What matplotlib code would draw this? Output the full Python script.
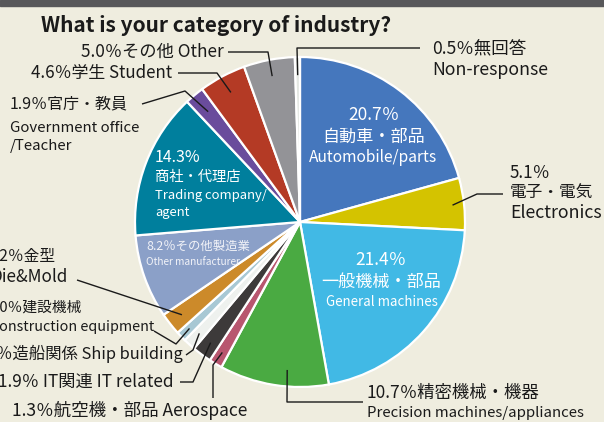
import numpy as np
import matplotlib.pyplot as plt
from matplotlib.patches import Rectangle

# survey shares, clockwise from the top
values = [20.7, 5.1, 21.4, 10.7, 1.3, 1.9, 1.2, 1.0, 2.2, 8.2, 14.3, 1.9, 4.6, 5.0, 0.5]
names_jp = ['自動車・部品', '電子・電気', '一般機械・部品', '精密機械・機器', '航空機・部品',
            'IT関連', '造船関係', '建設機械', '金型', 'その他製造業', '商社・代理店',
            '官庁・教員', '学生', 'その他', '無回答']
names_en = ['Automobile/parts', 'Electronics', 'General machines',
            'Precision machines/appliances', 'Aerospace', 'IT related', 'Ship building',
            'Construction equipment', 'Die&Mold', 'Other manufacturer',
            'Trading company/\nagent', 'Government office\n/Teacher', 'Student', 'Other',
            'Non-response']
colors = ['#4577bd', '#d4c300', '#41b9e5', '#4aaa42', '#b8566f', '#3d3a3a', '#eef1ee',
          '#a8c8d4', '#cc8a2a', '#8ba0c8', '#007f9d', '#6a4c9c', '#b43a25', '#939397',
          '#e4e7e2']

plt.rcParams['font.family'] = ['Noto Sans CJK JP', 'DejaVu Sans']

CX, CY, R = 300, 222, 165
BG = '#efeddf'
INK = '#1a1a1a'

fig = plt.figure(figsize=(6.04, 4.22), dpi=100, facecolor=BG)
ax = fig.add_axes([0, 0, 1, 1])
wedges, _ = ax.pie(values, colors=colors, startangle=-90, counterclock=True,
                   center=(CX, CY), radius=R,
                   wedgeprops=dict(edgecolor='white', linewidth=1.6))
ax.set_xlim(0, 604)
ax.set_ylim(422, 0)
ax.set_aspect('equal')
ax.axis('off')

# dark strip along the top
ax.add_patch(Rectangle((0, 0), 604, 6, color='#58585a', clip_on=False))

ax.text(41, 25, 'What is your category of industry?', fontsize=15,
        fontweight='bold', color=INK, va='center', ha='left')


def anchor(i, f=0.5, rf=0.9):
    w = wedges[i]
    t = np.radians(w.theta1 + f * (w.theta2 - w.theta1))
    return CX + rf * R * np.cos(t), CY + rf * R * np.sin(t)


def pct(i):
    return f'{values[i]}％'


def lab(x, y, s, size, ha='left', color=INK, **kw):
    ax.text(x, y, s, fontsize=size, ha=ha, va='center', color=color, **kw)


# outside labels
lab(224, 52, f'{pct(13)}{names_jp[13]} {names_en[13]}', 12.4, ha='right')
lab(172, 73, f'{pct(12)}{names_jp[12]} {names_en[12]}', 12.2, ha='right')
lab(10, 104, f'{pct(11)}{names_jp[11]}', 11.5)
lab(10, 137, names_en[11], 10.8, linespacing=1.3)
lab(432, 48, f'{pct(14)}{names_jp[14]}', 12.6)
lab(432, 70, names_en[14], 12.8)
lab(510, 173, pct(1), 12.3)
lab(510, 193, names_jp[1], 12.0)
lab(510, 213, names_en[1], 12.8)
lab(367, 393, f'{pct(3)}{names_jp[3]}', 12.5)
lab(367, 413, names_en[3], 10.8)
lab(12, 410, f'{pct(4)}{names_jp[4]} {names_en[4]}', 12.6)
lab(173, 382, f'{pct(5)} {names_jp[5]} {names_en[5]}', 12.4, ha='right')
lab(183, 354, f'{pct(6)}{names_jp[6]} {names_en[6]}', 11.8, ha='right')
lab(-12, 308, f'{pct(7)}{names_jp[7]}', 10.6)
lab(-10, 327, names_en[7], 10.3)
lab(-14, 257, f'{pct(8)}{names_jp[8]}', 11.3)
lab(-10, 277, names_en[8], 12.3)

# leader lines: label end -> elbow -> point inside the slice
leaders = [
    (13, [(228, 52), (268, 52)], 0.5, 0.9),
    (12, [(178, 73), (217, 73)], 0.5, 0.89),
    (11, [(142, 104), (185, 91)], 0.5, 0.87),
    (14, [(420, 48), (297, 48)], 0.5, 0.89),
    (1, [(503, 194), (477, 194)], 0.5, 0.93),
    (3, [(363, 402), (287, 402)], 0.39, 0.9),
    (4, [(213, 398), (213, 365)], 0.5, 0.92),
    (5, [(180, 382), (193, 382)], 0.5, 0.91),
    (6, [(186, 355), (193, 350)], 0.5, 0.91),
    (7, [(154, 331), (176, 344)], 0.5, 0.93),
    (8, [(77, 280)], 0.5, 0.91),
]
for i, pts, f, rf in leaders:
    ax_, ay_ = anchor(i, f, rf)
    xs = [p[0] for p in pts] + [ax_]
    ys = [p[1] for p in pts] + [ay_]
    ax.plot(xs, ys, color=INK, lw=1.0, solid_capstyle='butt')

# labels inside the slices
lab(374, 115, pct(0), 12.5, ha='center', color='white')
lab(374, 137, names_jp[0], 12.3, ha='center', color='white')
lab(373, 157, names_en[0], 11.2, ha='center', color='white')
lab(381, 260, pct(2), 12.5, ha='center', color='white')
lab(381, 282, names_jp[2], 12.3, ha='center', color='white')
lab(382, 302, names_en[2], 9.6, ha='center', color='white')
lab(155, 157, f'{values[10]}%', 11.5, color='white')
lab(155, 177, names_jp[10], 10.3, color='white')
lab(155, 204, names_en[10], 9.4, color='white', linespacing=1.35)
lab(146, 246, f'{pct(9)}{names_jp[9]}', 8.9, color='#f2f3f8')
lab(146, 262, names_en[9], 7.3, color='#f2f3f8')

fig.savefig('out.png', dpi=100, facecolor=BG)
